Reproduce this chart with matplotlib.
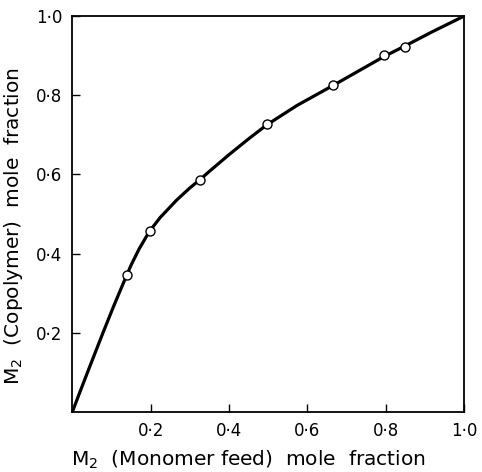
import matplotlib
matplotlib.use('Agg')
import matplotlib.pyplot as plt

# Curve (monomer feed vs copolymer composition)
curve_x = [0, 0.020, 0.045, 0.079, 0.105, 0.130, 0.150, 0.170, 0.196, 0.224,
           0.266, 0.300, 0.326, 0.350, 0.400, 0.450, 0.496, 0.573, 0.666,
           0.730, 0.796, 0.848, 0.920, 1.0]
curve_y = [0, 0.052, 0.116, 0.202, 0.266, 0.325, 0.371, 0.411, 0.455, 0.491,
           0.535, 0.566, 0.587, 0.608, 0.650, 0.690, 0.725, 0.774, 0.825,
           0.861, 0.898, 0.924, 0.961, 1.0]

# Measured points (open circles)
feed = [0.14, 0.198, 0.326, 0.496, 0.666, 0.796, 0.848]
copolymer = [0.347, 0.458, 0.585, 0.727, 0.825, 0.902, 0.923]

ticks = [0.2, 0.4, 0.6, 0.8, 1.0]
tick_labels = ['0·2', '0·4', '0·6', '0·8', '1·0']

plt.rcParams['mathtext.default'] = 'regular'
plt.rcParams['font.family'] = 'DejaVu Sans'

fig = plt.figure(figsize=(4.82, 4.72), dpi=100)
ax = fig.add_axes([0.150, 0.127, 0.813, 0.839])

ax.plot(curve_x, curve_y, color='black', lw=2.3, solid_capstyle='round',
        solid_joinstyle='round', zorder=2)
ax.plot(feed, copolymer, 'o', ms=6.5, mfc='white', mec='black', mew=1.0, zorder=3)

ax.set_xlim(0, 1)
ax.set_ylim(0, 1)
ax.set_xticks(ticks)
ax.set_xticklabels(tick_labels)
ax.set_yticks(ticks)
ax.set_yticklabels(tick_labels)
ax.tick_params(direction='in', length=6, width=1.0, labelsize=12, pad=7)

for s in ax.spines.values():
    s.set_linewidth(1.3)

ax.set_xlabel('M$_2$  (Monomer feed)  mole  fraction', fontsize=14.5)
ax.xaxis.set_label_coords(0.449, -0.093)
ax.set_ylabel('M$_2$  (Copolymer)  mole  fraction', fontsize=14.5)
ax.yaxis.set_label_coords(-0.12, 0.47)

fig.savefig('out.png', dpi=100)
